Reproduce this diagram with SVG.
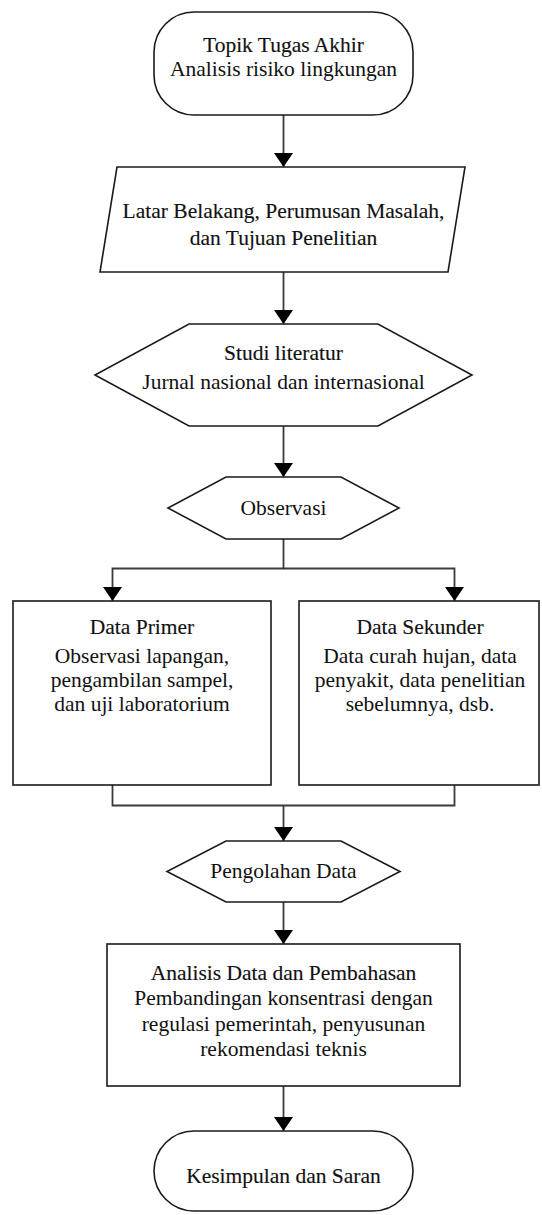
<svg xmlns="http://www.w3.org/2000/svg" width="542" height="1215" viewBox="0 0 542 1215">
<style>
.shape{fill:#fff;stroke:#1a1a1a;stroke-width:1.6}
.conn{fill:none;stroke:#3a3a3a;stroke-width:1.8}
text{font-family:"Liberation Serif","Times New Roman",serif;font-size:21.5px;fill:#111;text-anchor:middle}
.hd{stroke:#111;stroke-width:0.15}
</style>
<defs>
<marker id="arr" markerUnits="userSpaceOnUse" markerWidth="14" markerHeight="19" viewBox="0 0 14 19" refX="14" refY="9.5" orient="auto">
<path d="M0,0 L14,9.5 L0,19 z" fill="#000"/>
</marker>
</defs>
<rect width="542" height="1215" fill="#fff"/>
<g id="connectors">
<path class="conn" d="M283.5,115 V167" marker-end="url(#arr)"/>
<path class="conn" d="M283.5,272 V324" marker-end="url(#arr)"/>
<path class="conn" d="M283.5,426 V477" marker-end="url(#arr)"/>
<path class="conn" d="M283.5,539 V568.5 H112.5 V601" marker-end="url(#arr)"/>
<path class="conn" d="M283.5,568.5 H454.5 V601" marker-end="url(#arr)"/>
<path class="conn" d="M112.5,785 V805.5 H454.5 V785"/>
<path class="conn" d="M283.5,805.5 V841" marker-end="url(#arr)"/>
<path class="conn" d="M283.5,902 V944" marker-end="url(#arr)"/>
<path class="conn" d="M283.5,1086 V1131" marker-end="url(#arr)"/>
</g>
<g id="topik">
<rect class="shape" x="154" y="12" width="259" height="103" rx="40" ry="40"/>
<text class="hd" x="283.5" y="52">Topik Tugas Akhir</text>
<text x="283.5" y="76">Analisis risiko lingkungan</text>
</g>
<g id="latar">
<polygon class="shape" points="117,167 465,167 448,272 100,272"/>
<text class="hd" x="283.5" y="218">Latar Belakang, Perumusan Masalah,</text>
<text class="hd" x="283.5" y="245">dan Tujuan Penelitian</text>
</g>
<g id="studi">
<polygon class="shape" points="189,324 378,324 472,375 378,426 189,426 95,375"/>
<text class="hd" x="283.5" y="360">Studi literatur</text>
<text x="283.5" y="389">Jurnal nasional dan internasional</text>
</g>
<g id="observasi">
<polygon class="shape" points="226,477 341,477 399,508 341,539 226,539 168,508"/>
<text x="283.5" y="515">Observasi</text>
</g>
<g id="primer">
<rect class="shape" x="13" y="601" width="258" height="184"/>
<text class="hd" x="142" y="634">Data Primer</text>
<text x="142" y="663">Observasi lapangan,</text>
<text x="142" y="687">pengambilan sampel,</text>
<text x="142" y="711">dan uji laboratorium</text>
</g>
<g id="sekunder">
<rect class="shape" x="299" y="601" width="240" height="184"/>
<text class="hd" x="420" y="634">Data Sekunder</text>
<text x="420" y="663">Data curah hujan, data</text>
<text x="420" y="687">penyakit, data penelitian</text>
<text x="420" y="711">sebelumnya, dsb.</text>
</g>
<g id="pengolahan">
<polygon class="shape" points="226,841 341,841 400,871.5 341,902 226,902 167,871.5"/>
<text x="283.5" y="878">Pengolahan Data</text>
</g>
<g id="analisis">
<rect class="shape" x="107" y="944" width="353" height="142"/>
<text class="hd" x="283.5" y="980">Analisis Data dan Pembahasan</text>
<text x="283.5" y="1005">Pembandingan konsentrasi dengan</text>
<text x="283.5" y="1031">regulasi pemerintah, penyusunan</text>
<text x="283.5" y="1056">rekomendasi teknis</text>
</g>
<g id="kesimpulan">
<rect class="shape" x="154" y="1131" width="259" height="80" rx="40" ry="40"/>
<text class="hd" x="283.5" y="1183">Kesimpulan dan Saran</text>
</g>
</svg>
